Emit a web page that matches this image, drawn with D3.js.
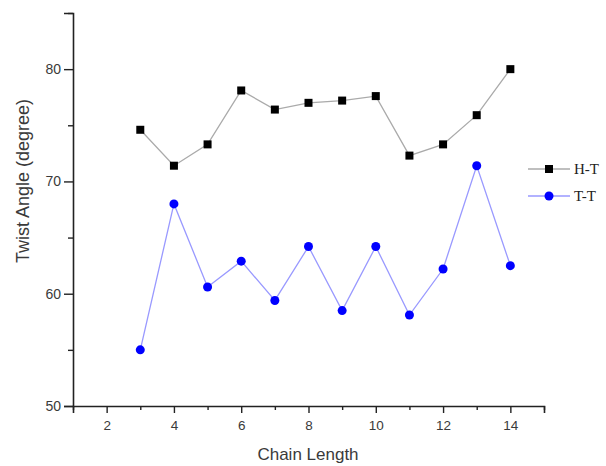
<!DOCTYPE html>
<html>
<head>
<meta charset="utf-8">
<script src="https://cdn.jsdelivr.net/npm/d3@7"></script>
<style>
  body { margin: 0; background: #fff; }
  svg { display: block; }
</style>
</head>
<body>
<svg id="chart" width="606" height="466"></svg>
<script>
const chainLength = [3, 4, 5, 6, 7, 8, 9, 10, 11, 12, 13, 14];
const htValues = [74.6, 71.4, 73.3, 78.1, 76.4, 77.0, 77.2, 77.6, 72.3, 73.3, 75.9, 80.0];
const ttValues = [55.0, 68.0, 60.6, 62.9, 59.4, 64.2, 58.5, 64.2, 58.1, 62.2, 71.4, 62.5];
const xMajorTicks = [2, 4, 6, 8, 10, 12, 14];
const xMinorTicks = [1, 3, 5, 7, 9, 11, 13, 15];
const yMajorTicks = [50, 60, 70, 80];
const yMinorTicks = [55, 65, 75, 85];
const seriesNames = ["H-T", "T-T"];

(function () {
const svg = d3.select("#chart");
const mLeft = 73, mRight = 544, mTop = 13, mBottom = 406;

const x = d3.scaleLinear().domain([1, 15]).range([mLeft, mRight]);
const y = d3.scaleLinear().domain([50, 85]).range([mBottom, mTop]);

const axisColor = "#222";
const textColor = "#3a3a3a";
const sans = "Liberation Sans, Arial, sans-serif";

// X axis
const gx = svg.append("g").attr("transform", `translate(0,${mBottom})`);
gx.call(d3.axisBottom(x).tickValues(xMajorTicks).tickSize(7).tickPadding(7).tickFormat(d3.format("d")));
const gxm = gx.append("g").call(d3.axisBottom(x).tickValues(xMinorTicks).tickSize(4).tickFormat(""));
gxm.select(".domain").remove();
gx.selectAll(".domain").attr("stroke", axisColor).attr("stroke-width", 1.6);
gx.selectAll(".tick line").attr("stroke", axisColor).attr("stroke-width", 1.4);
gx.selectAll(".tick text").attr("fill", textColor).style("font-family", sans).style("font-size", "13.5px");

// Y axis
const gy = svg.append("g").attr("transform", `translate(${mLeft},0)`);
gy.call(d3.axisLeft(y).tickValues(yMajorTicks).tickSize(9).tickPadding(3).tickFormat(d3.format("d")));
const gym = gy.append("g").call(d3.axisLeft(y).tickValues(yMinorTicks).tickSize(5).tickFormat(""));
gym.select(".domain").remove();
gy.selectAll(".domain").attr("stroke", axisColor).attr("stroke-width", 1.6);
gy.selectAll(".tick line").attr("stroke", axisColor).attr("stroke-width", 1.4);
gy.selectAll(".tick text").attr("fill", textColor).style("font-family", sans).style("font-size", "14px");

// Axis titles
svg.append("text")
  .attr("x", 308).attr("y", 460)
  .attr("text-anchor", "middle")
  .attr("fill", textColor)
  .style("font-family", sans)
  .style("font-size", "17px")
  .text("Chain Length");

svg.append("text")
  .attr("transform", "translate(29,181) rotate(-90)")
  .attr("text-anchor", "middle")
  .attr("fill", textColor)
  .style("font-family", sans)
  .style("font-size", "18px")
  .text("Twist Angle (degree)");

const line = d3.line().x(d => x(d[0])).y(d => y(d[1]));
const htData = chainLength.map((c, i) => [c, htValues[i]]);
const ttData = chainLength.map((c, i) => [c, ttValues[i]]);

// H-T series
svg.append("path").datum(htData)
  .attr("d", line).attr("fill", "none")
  .attr("stroke", "#aaaaaa").attr("stroke-width", 1.3);
svg.append("g").selectAll("rect").data(htData).join("rect")
  .attr("x", d => x(d[0]) - 4).attr("y", d => y(d[1]) - 4)
  .attr("width", 8).attr("height", 8).attr("fill", "#000");

// T-T series
svg.append("path").datum(ttData)
  .attr("d", line).attr("fill", "none")
  .attr("stroke", "#9999ff").attr("stroke-width", 1.3);
svg.append("g").selectAll("circle").data(ttData).join("circle")
  .attr("cx", d => x(d[0])).attr("cy", d => y(d[1]))
  .attr("r", 4.5).attr("fill", "#0000ff");

// Legend
const legend = svg.append("g");
const legendRows = [
  { name: seriesNames[0], y: 169, color: "#aaaaaa", marker: "square" },
  { name: seriesNames[1], y: 196, color: "#9999ff", marker: "circle" }
];
legendRows.forEach(r => {
  legend.append("line").attr("x1", 528).attr("x2", 570).attr("y1", r.y).attr("y2", r.y)
    .attr("stroke", r.color).attr("stroke-width", 1.3);
  if (r.marker === "square") {
    legend.append("rect").attr("x", 545).attr("y", r.y - 4).attr("width", 8).attr("height", 8).attr("fill", "#000");
  } else {
    legend.append("circle").attr("cx", 549).attr("cy", r.y).attr("r", 4.5).attr("fill", "#0000ff");
  }
  legend.append("text").attr("x", 574).attr("y", r.y + 5)
    .attr("fill", "#222")
    .style("font-family", "Liberation Serif, Times New Roman, serif")
    .style("font-size", "15px")
    .text(r.name);
});
})();
</script>
</body>
</html>
